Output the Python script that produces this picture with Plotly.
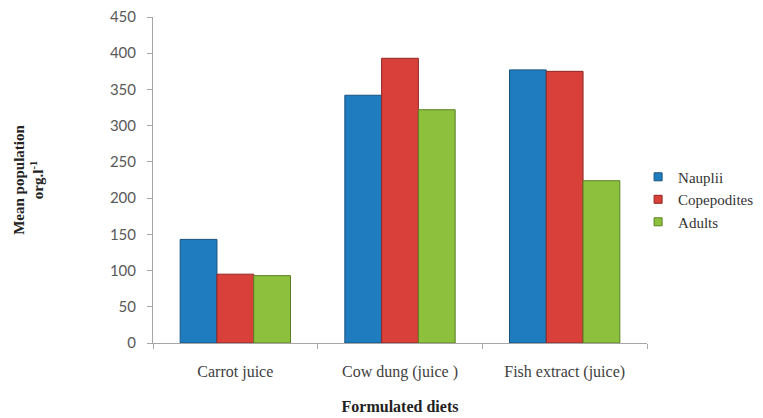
import plotly.graph_objects as go

# Formulated diets and mean population of each life stage
diets = ["Carrot juice", "Cow dung (juice )", "Fish extract (juice)"]
nauplii = [143, 342, 377]
copepodites = [95, 393, 375]
adults = [93, 322, 224]

series = [
    ("Nauplii", nauplii, "#1f7dbf", "#17527d"),
    ("Copepodites", copepodites, "#d9403a", "#8f2622"),
    ("Adults", adults, "#8dc13d", "#5a7f24"),
]

fig = go.Figure()
for name, vals, fill, edge in series:
    fig.add_trace(go.Bar(
        name=name, x=diets, y=vals, legendgroup=name, showlegend=False,
        marker=dict(color=fill, line=dict(color=edge, width=1)),
    ))
# small square keys for the legend
for name, vals, fill, edge in series:
    fig.add_trace(go.Scatter(
        name=name, x=[None], y=[None], mode="markers", legendgroup=name,
        marker=dict(symbol="square", size=8, color=fill, line=dict(color=edge, width=1)),
    ))

fig.update_layout(
    width=763, height=418,
    margin=dict(l=153, r=116, t=17, b=75, autoexpand=False),
    paper_bgcolor="white", plot_bgcolor="white",
    barmode="group", bargap=0.33, bargroupgap=0,
    showlegend=True,
    legend=dict(
        x=0.982, y=0.44, xanchor="left", yanchor="middle",
        font=dict(family="Liberation Serif", size=15, color="#333333"),
        itemwidth=30, tracegroupgap=0,
        bgcolor="rgba(0,0,0,0)",
    ),
    xaxis=dict(
        showline=True, linecolor="#a6a6a6", linewidth=1,
        ticks="outside", ticklen=5, tickcolor="#a6a6a6",
        tickson="boundaries", ticklabelstandoff=14,
        tickfont=dict(family="Liberation Serif", size=16, color="#404040"),
        title=dict(text="<b>Formulated diets</b>",
                   font=dict(family="Liberation Serif", size=16, color="#222222"),
                   standoff=20),
    ),
    yaxis=dict(
        range=[0, 450], dtick=50,
        showgrid=False, zeroline=False,
        showline=True, linecolor="#a6a6a6", linewidth=1,
        ticks="outside", ticklen=5, tickcolor="#a6a6a6",
        ticklabelstandoff=8,
        tickfont=dict(family="Lato", size=15, color="#595959"),
        title=dict(text="<b>Mean population<br>org.l<sup>-1</sup></b>",
                   font=dict(family="Liberation Serif", size=15, color="#222222"),
                   standoff=62),
    ),
)

fig.write_html("out.html")
